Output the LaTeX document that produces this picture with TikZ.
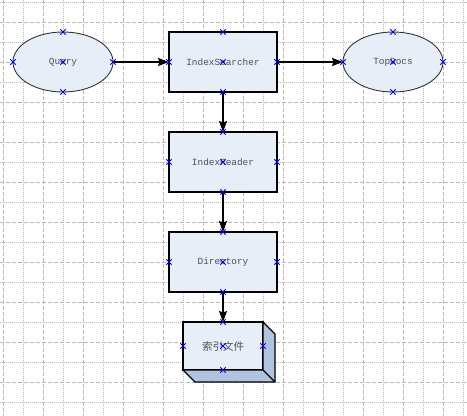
\documentclass[tikz,border=0pt]{standalone}
\usepackage{fontspec}
\setmonofont{Liberation Mono}
\newfontfamily\cjk{Noto Sans CJK SC}
\usetikzlibrary{shapes,arrows.meta,positioning}
\definecolor{shapefill}{RGB}{232,238,248}
\definecolor{sidefill}{RGB}{176,196,224}
\definecolor{gridgray}{RGB}{185,185,185}
\definecolor{labelgray}{RGB}{80,80,80}

\begin{document}
\begin{tikzpicture}[
    x=1pt, y=-1pt,
    node distance=40pt,
    box/.style={rectangle, draw=black, fill=shapefill, line width=1.2pt, minimum height=60pt, minimum width=108pt, inner sep=0pt, outer sep=0pt, align=center, font=\ttfamily\fontsize{9.4}{11}\selectfont, text=labelgray},
    oval/.style={ellipse, draw=black!80, fill=shapefill, line width=0.9pt, minimum height=60pt, minimum width=100pt, inner sep=0pt, outer sep=0pt, font=\ttfamily\fontsize{9.4}{11}\selectfont, text=labelgray},
    filebox/.style={box, minimum height=48pt, minimum width=80pt, font=\cjk\fontsize{10.5}{12}\selectfont},
    side/.style={draw=black, fill=sidefill, line width=1.2pt, line join=miter},
    arrow/.style={-{Stealth[length=11pt, width=8pt, inset=1.5pt]}, line width=1.2pt},
    cpoint/.style={cross out, draw=blue, minimum size=4.5pt, inner sep=0pt, line width=0.8pt},
    majorline/.style={gridgray, line width=1pt, dash pattern=on 4pt off 2pt},
    minorline/.style={gridgray, line width=1pt, dash pattern=on 1pt off 1pt}
]
\useasboundingbox (0,0) rectangle (467,416);

% Grid
\foreach \k in {0,...,23} {
  \pgfmathsetmacro{\gx}{3+20*\k}
  \ifodd\k \draw[minorline] (\gx,0) -- (\gx,416);
  \else \draw[majorline] (\gx,0) -- (\gx,416); \fi
}
\foreach \k in {0,...,20} {
  \pgfmathsetmacro{\gy}{2+20*\k}
  \ifodd\k \draw[majorline] (0,\gy) -- (467,\gy);
  \else \draw[minorline] (0,\gy) -- (467,\gy); \fi
}

% Search row
\node[box] (searcher) at (223,62) {IndexSearcher};
\node[oval, left=56pt of searcher] (query) {Query};
\node[oval, right=66pt of searcher] (topdocs) {TopDocs};

% Reader chain
\node[box, below=of searcher] (reader) {IndexReader};
\node[box, below=of reader] (directory) {Directory};

% Index files
\node[filebox, below=30pt of directory] (files) {索引文件};
\draw[side] (files.north east) -- ++(12,12) -- ++(0,48) -- ++(-80,0) -- (files.south west) -- (files.south east) -- cycle;
\draw[side] (files.south east) -- ++(12,12);

% Arrows
\draw[arrow] (query) -- (searcher);
\draw[arrow] (searcher) -- (topdocs);
\draw[arrow] (searcher) -- (reader);
\draw[arrow] (reader) -- (directory);
\draw[arrow] (directory) -- (files);

% Connection points
\foreach \n in {query,searcher,topdocs,reader,directory,files}
  \foreach \a in {north,south,east,west,center}
    \node[cpoint] at (\n.\a) {};

\end{tikzpicture}
\end{document}
